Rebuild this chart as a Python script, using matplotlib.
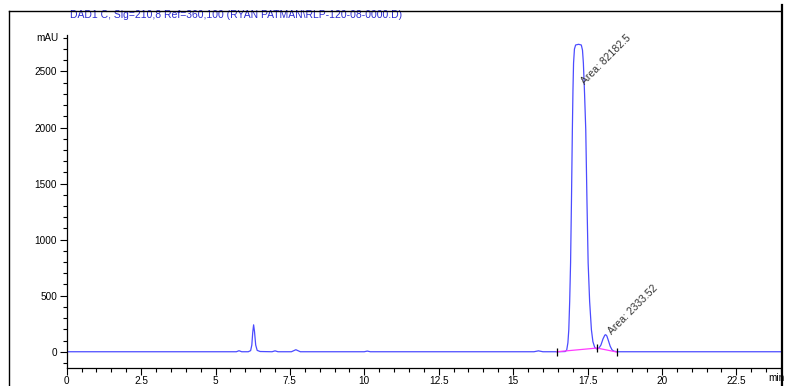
import numpy as np
from matplotlib import pyplot as plt
from matplotlib.lines import Line2D
from matplotlib.ticker import MultipleLocator

# chromatogram trace (time in min, signal in mAU)
trace_time = [0.0, 5.70, 5.79, 5.88, 6.10, 6.18, 6.22, 6.25, 6.28, 6.31, 6.35, 6.40, 6.50,
              6.90, 7.00, 7.10, 7.55, 7.70, 7.85, 10.00, 10.10, 10.20, 15.70, 15.85, 16.00,
              16.47, 16.75, 16.80, 16.84, 16.87, 16.90, 16.93, 16.96, 16.99, 17.01, 17.03,
              17.06, 17.10, 17.20, 17.29, 17.33, 17.36, 17.40, 17.44, 17.48, 17.52, 17.57,
              17.63, 17.68, 17.74, 17.80, 17.85, 17.88, 17.95, 18.02, 18.08, 18.11, 18.15,
              18.20, 18.26, 18.32, 18.38, 18.50, 24.0]
trace_mau = [0, 0, 9, 0, 0, 10, 60, 170, 240, 180, 60, 12, 2,
             0, 8, 0, 0, 18, 0, 0, 6, 0, 0, 8, 0,
             0, 2, 15, 80, 196, 450, 793, 1350, 1980, 2330, 2575,
             2700, 2736, 2742, 2736, 2690, 2575, 2300, 1980, 1350, 793, 450,
             196, 90, 40, 25, 28, 32, 60, 115, 148, 152, 140,
             100, 50, 18, 5, 0, 0]

# integration baseline
base_time = [16.47, 17.82, 18.49]
base_mau = [0, 33, -3]

areas = ["Area: 82182.5", "Area: 2333.52"]
area_pos = [(17.36, 2400), (18.24, 170)]

title = "DAD1 C, Sig=210,8 Ref=360,100 (RYAN PATMAN\\RLP-120-08-0000.D)"

plt.rcParams['font.family'] = ['Liberation Sans', 'DejaVu Sans']
fs = 7.2

fig = plt.figure(figsize=(7.85, 3.86), dpi=100)
ax = fig.add_axes([66.7 / 785, 18 / 386, (781 - 66.7) / 785, 333 / 386])

ax.plot(trace_time, trace_mau, color='#4b4bff', lw=0.9, solid_joinstyle='round')
ax.plot(base_time, base_mau, color='#ff3cff', lw=0.9)
ax.plot(base_time, base_mau, ls='none', marker='|', ms=6, mew=0.9, color='black')

for label, (t, v) in zip(areas, area_pos):
    ax.text(t, v, label, rotation=45, rotation_mode='anchor', ha='left', va='center',
            fontsize=7.5, color='#333333')

ax.set_xlim(0, 24.0)
ax.set_ylim(-145, 2825)
ax.xaxis.set_major_locator(MultipleLocator(2.5))
ax.xaxis.set_minor_locator(MultipleLocator(0.5))
ax.set_yticks([0, 500, 1000, 1500, 2000, 2500])
ax.set_yticks(np.arange(-100, 2900, 100), minor=True)
ax.xaxis.set_major_formatter(lambda x, pos: f"{x:g}")
ax.tick_params(axis='both', which='major', labelsize=fs, length=5, width=0.8, pad=2)
ax.tick_params(axis='x', which='major', pad=0.5)
ax.tick_params(axis='both', which='minor', length=3, width=0.8)

for side in ['top', 'right']:
    ax.spines[side].set_visible(False)
for side in ['left', 'bottom']:
    ax.spines[side].set_linewidth(0.9)

ax.text(-0.012, 2800, "mAU", transform=ax.get_yaxis_transform(), ha='right', va='center',
        fontsize=fs)
ax.text(23.85, -190, "min", ha='center', va='top', fontsize=fs)
ax.text(70 / 785, 1 - 15 / 386, title, transform=fig.transFigure, ha='left', va='center',
        fontsize=7.5, color='#2a2ad0')

# outer report frame
fig.add_artist(Line2D([9 / 785, 9 / 785], [0, 1 - 11 / 386], transform=fig.transFigure,
                      color='black', lw=1.0))
fig.add_artist(Line2D([9 / 785, 781 / 785], [1 - 11 / 386, 1 - 11 / 386],
                      transform=fig.transFigure, color='black', lw=1.0))
fig.add_artist(Line2D([781.5 / 785, 781.5 / 785], [0, 1 - 5 / 386], transform=fig.transFigure,
                      color='black', lw=1.6))

fig.savefig("out.png", dpi=100)
